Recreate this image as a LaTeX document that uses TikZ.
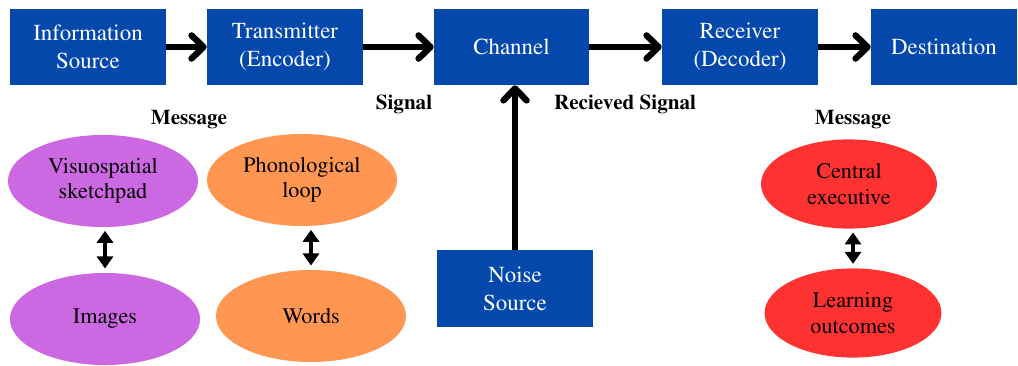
\documentclass[tikz,border=0pt]{standalone}
\usepackage[T1]{fontenc}
\renewcommand{\rmdefault}{ptm}
\usetikzlibrary{arrows.meta,shapes.geometric}
\definecolor{boxblue}{RGB}{4,72,172}
\definecolor{lilac}{RGB}{203,104,226}
\definecolor{peach}{RGB}{255,150,82}
\definecolor{redfill}{RGB}{255,50,50}
\begin{document}
\begin{tikzpicture}[x=0.025cm,y=-0.025cm,
		blockbox/.style={fill=boxblue,text=white,minimum height=1.9cm,align=center,inner sep=0pt,font=\fontsize{16.3}{20}\selectfont},
		memory/.style={ellipse,minimum width=4.75cm,minimum height=2.3cm,align=center,inner sep=0pt,font=\fontsize{15.8}{18}\selectfont},
		flow/.style={line width=4.5pt,-{Straight Barb[length=3mm,width=5.8mm,round]}},
		link/.style={line width=3.2pt,{Triangle[length=3mm,width=4mm]}-{Triangle[length=3mm,width=4mm]},shorten <=2.5pt,shorten >=3pt},
		tag/.style={font=\fontsize{15}{18}\selectfont\bfseries}]
				\useasboundingbox (0,0) rectangle (1018,366);
				\node[blockbox,minimum width=3.9cm] (src) at (88,47) {Information\\Source};
				\node[blockbox,minimum width=3.9cm] (enc) at (285,47) {Transmitter\\(Encoder)};
				\node[blockbox,minimum width=3.875cm] (chan) at (511.5,47) {Channel};
				\node[blockbox,minimum width=3.9cm] (dec) at (740,47) {Receiver\\(Decoder)};
				\node[blockbox,minimum width=3.65cm] (dest) at (944,47) {Destination};
				\node[blockbox,minimum width=3.9cm,minimum height=1.925cm] (noise) at (515,288.5) {Noise\\Source};
				\node[tag] (msgA) at (189,119) {Message};
				\node[tag] (sig) at (404,104) {Signal};
				\node[tag] (rsig) at (625,104) {Recieved Signal};
				\node[tag] (msgB) at (853,119) {Message};
				\node[memory,fill=lilac] (visuo) at (103,181) {Visuospatial\\sketchpad};
				\node[memory,fill=lilac] (img) at (105,319) {Images};
				\node[memory,fill=peach] (phono) at (302,180) {Phonological\\loop};
				\node[memory,fill=peach] (word) at (311,316) {Words};
				\node[memory,fill=redfill,minimum width=4.4cm,minimum height=2.23cm] (exec) at (849,184) {Central\\executive};
				\node[memory,fill=redfill,minimum width=4.42cm,minimum height=2.23cm] (learn) at (853,313) {Learning\\outcomes};
				\draw[flow] (src) -- (enc);
				\draw[flow] (enc) -- (chan);
				\draw[flow] (chan) -- (dec);
				\draw[flow] (dec) -- (dest);
				\draw[flow] (noise.north) -- (noise.north |- chan.south);
				\draw[link] (img.north |- visuo.south) -- (img.north);
				\draw[link] (word.north |- phono.south) -- (word.north);
				\draw[link] (learn.north |- exec.south) -- (learn.north);
\end{tikzpicture}
\end{document}
